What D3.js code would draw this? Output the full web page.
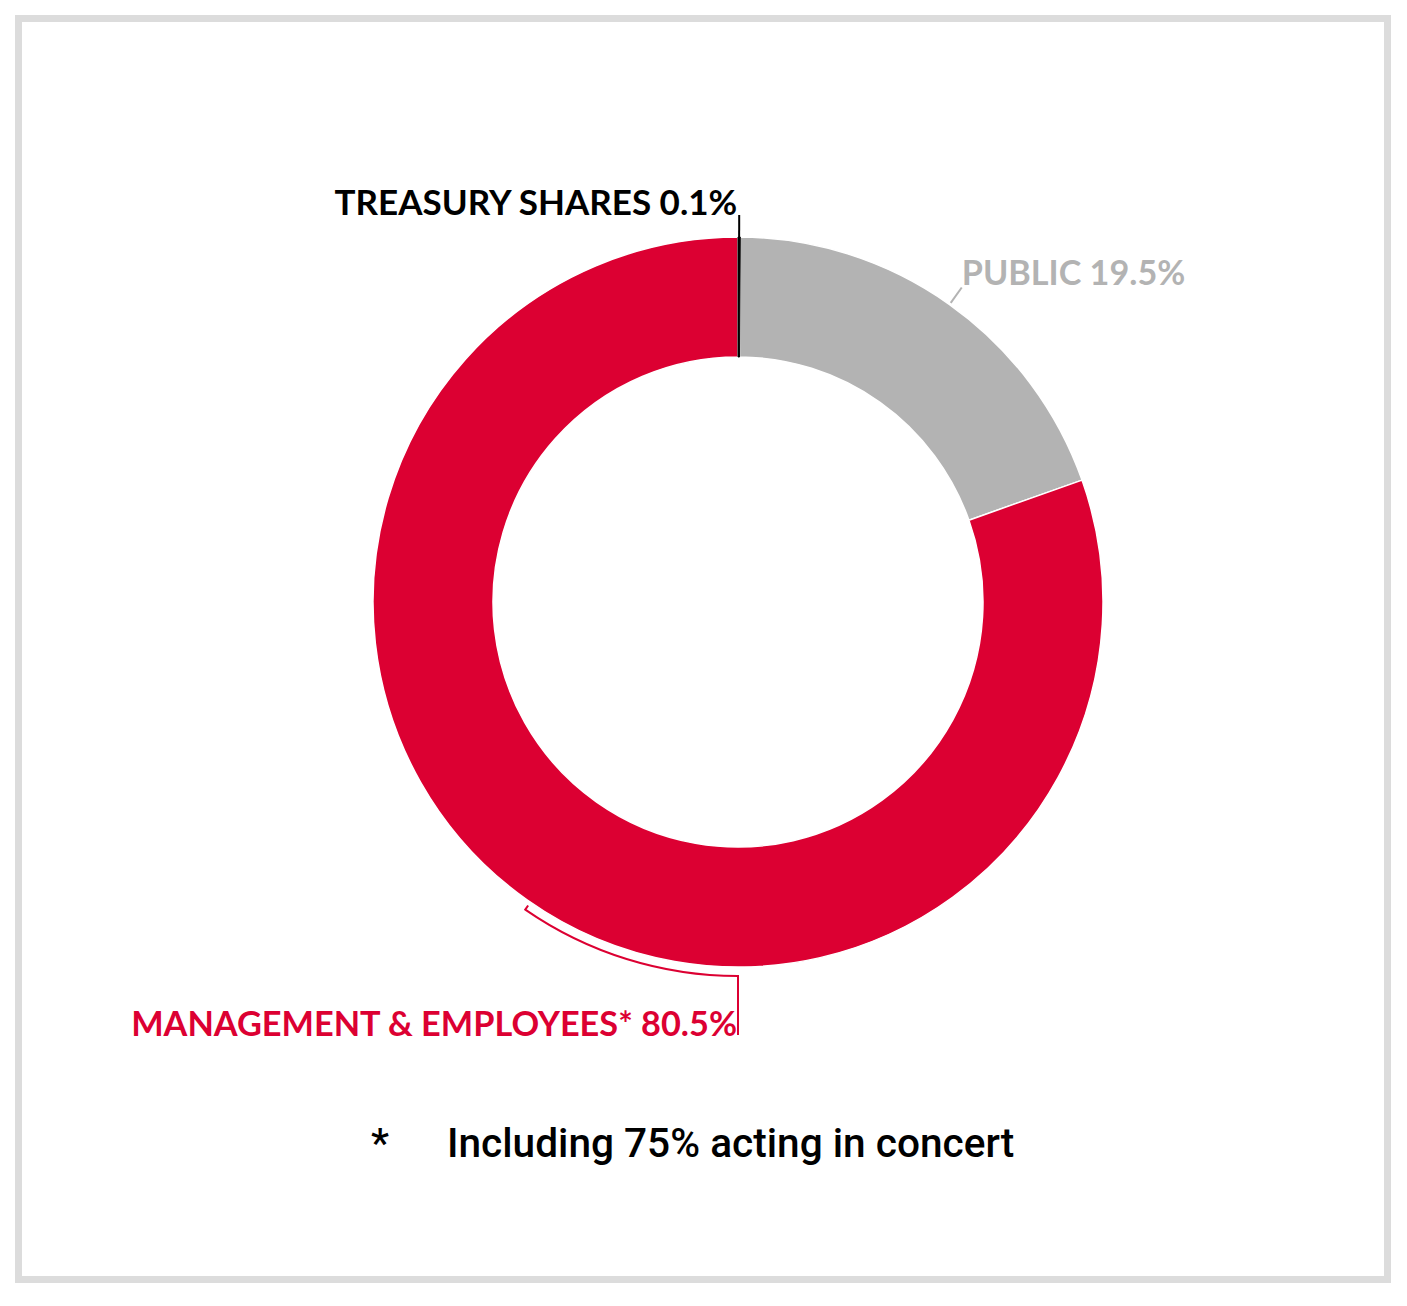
<!DOCTYPE html>
<html>
<head>
<meta charset="utf-8">
<script src="https://cdn.jsdelivr.net/npm/d3@7"></script>
<style>
  body { margin: 0; background: white; }
</style>
</head>
<body>
<svg id="chart"></svg>
<script>
// slices clockwise from 12 o'clock
var categories = ["TREASURY SHARES", "PUBLIC", "MANAGEMENT & EMPLOYEES*"]
var values = [0.1, 19.5, 80.5]
var labels = ["0.1%", "19.5%", "80.5%"]
var colors = ["#000000", "#b3b3b3", "#dc0032"]
var footnote = ["*", "Including 75% acting in concert"]

var dimensions = {
    width: 1407,
    height: 1306,
    cx: 738,
    cy: 602,
    outer: 365,
    inner: 245
}

var svg = d3.select("#chart")
    .attr("width", dimensions.width)
    .attr("height", dimensions.height)

// frame
svg.append("rect")
    .attr("x", 18.5)
    .attr("y", 18.5)
    .attr("width", 1369)
    .attr("height", 1261)
    .attr("fill", "none")
    .attr("stroke", "#dcdcdc")
    .attr("stroke-width", 7)

var data = categories.map((c, i) => ({name: c, value: values[i], label: labels[i], color: colors[i]}))

var pie = d3.pie().sort(null).value(d => d.value)
var arcs = pie(data)

var arc = d3.arc()
    .innerRadius(dimensions.inner)
    .outerRadius(dimensions.outer)

var g = svg.append("g")
    .attr("transform", `translate(${dimensions.cx},${dimensions.cy})`)

// big slices first with white separators, tiny treasury slice on top
g.selectAll("path.slice")
    .data(arcs.slice(1))
    .enter()
    .append("path")
    .attr("class", "slice")
    .attr("d", arc)
    .attr("fill", d => d.data.color)
    .attr("stroke", "white")
    .attr("stroke-width", 1.5)

g.append("path")
    .attr("d", arc(arcs[0]))
    .attr("fill", arcs[0].data.color)
    .attr("stroke", arcs[0].data.color)
    .attr("stroke-width", 1)

// point at angle a (clockwise from top) and radius r
var pt = (a, r) => [Math.sin(a) * r, -Math.cos(a) * r]

var labelFont = "Lato, sans-serif"

// treasury: straight leader up
var tMid = (arcs[0].startAngle + arcs[0].endAngle) / 2
var t0 = pt(tMid, dimensions.outer), t1 = pt(tMid, 387)
g.append("line")
    .attr("x1", t0[0]).attr("y1", t0[1])
    .attr("x2", t1[0]).attr("y2", t1[1])
    .attr("stroke", "#000").attr("stroke-width", 2)
g.append("text")
    .attr("x", t1[0] - 2)
    .attr("y", t1[1])
    .attr("text-anchor", "end")
    .style("font-family", labelFont)
    .style("font-weight", 700)
    .style("font-size", "35px")
    .attr("fill", "#000")
    .text(arcs[0].data.name + " " + arcs[0].data.label)

// public: short diagonal leader
var pMid = (arcs[1].startAngle + arcs[1].endAngle) / 2
var p0 = pt(pMid, dimensions.outer + 2), p1 = pt(pMid, 386)
g.append("line")
    .attr("x1", p0[0]).attr("y1", p0[1])
    .attr("x2", p1[0]).attr("y2", p1[1])
    .attr("stroke", "#b3b3b3").attr("stroke-width", 2)
g.append("text")
    .attr("x", p1[0])
    .attr("y", p1[1] - 2)
    .attr("text-anchor", "start")
    .style("font-family", labelFont)
    .style("font-weight", 700)
    .style("font-size", "34.2px")
    .attr("fill", "#b3b3b3")
    .text(arcs[1].data.name + " " + arcs[1].data.label)

// management: bracket arc along the bottom-left edge, then down to label
var rB = 374
var aStart = Math.PI, aEnd = Math.PI + 0.605
var path = d3.path()
var s = pt(aEnd, rB - 5), s1 = pt(aEnd, rB)
path.moveTo(s[0], s[1])
path.lineTo(s1[0], s1[1])
// d3.path arc uses angles from +x axis, clockwise in screen coords
path.arc(0, 0, rB, aEnd - Math.PI / 2, aStart - Math.PI / 2, true)
path.lineTo(0, 433)
g.append("path")
    .attr("d", path.toString())
    .attr("fill", "none")
    .attr("stroke", "#dc0032")
    .attr("stroke-width", 2)
g.append("text")
    .attr("x", -1)
    .attr("y", 434)
    .attr("text-anchor", "end")
    .style("font-family", labelFont)
    .style("font-weight", 700)
    .style("font-size", "34.3px")
    .attr("fill", "#dc0032")
    .text(arcs[2].data.name + " " + arcs[2].data.label)

// footnote
svg.append("text")
    .attr("x", 371)
    .attr("y", 1157)
    .style("font-family", "Roboto, sans-serif")
    .style("font-weight", 500)
    .style("font-size", "40.6px")
    .attr("fill", "#000")
    .text(footnote[0])
svg.append("text")
    .attr("x", 447)
    .attr("y", 1157)
    .style("font-family", "Roboto, sans-serif")
    .style("font-weight", 500)
    .style("font-size", "40.6px")
    .attr("fill", "#000")
    .text(footnote[1])
</script>
</body>
</html>
